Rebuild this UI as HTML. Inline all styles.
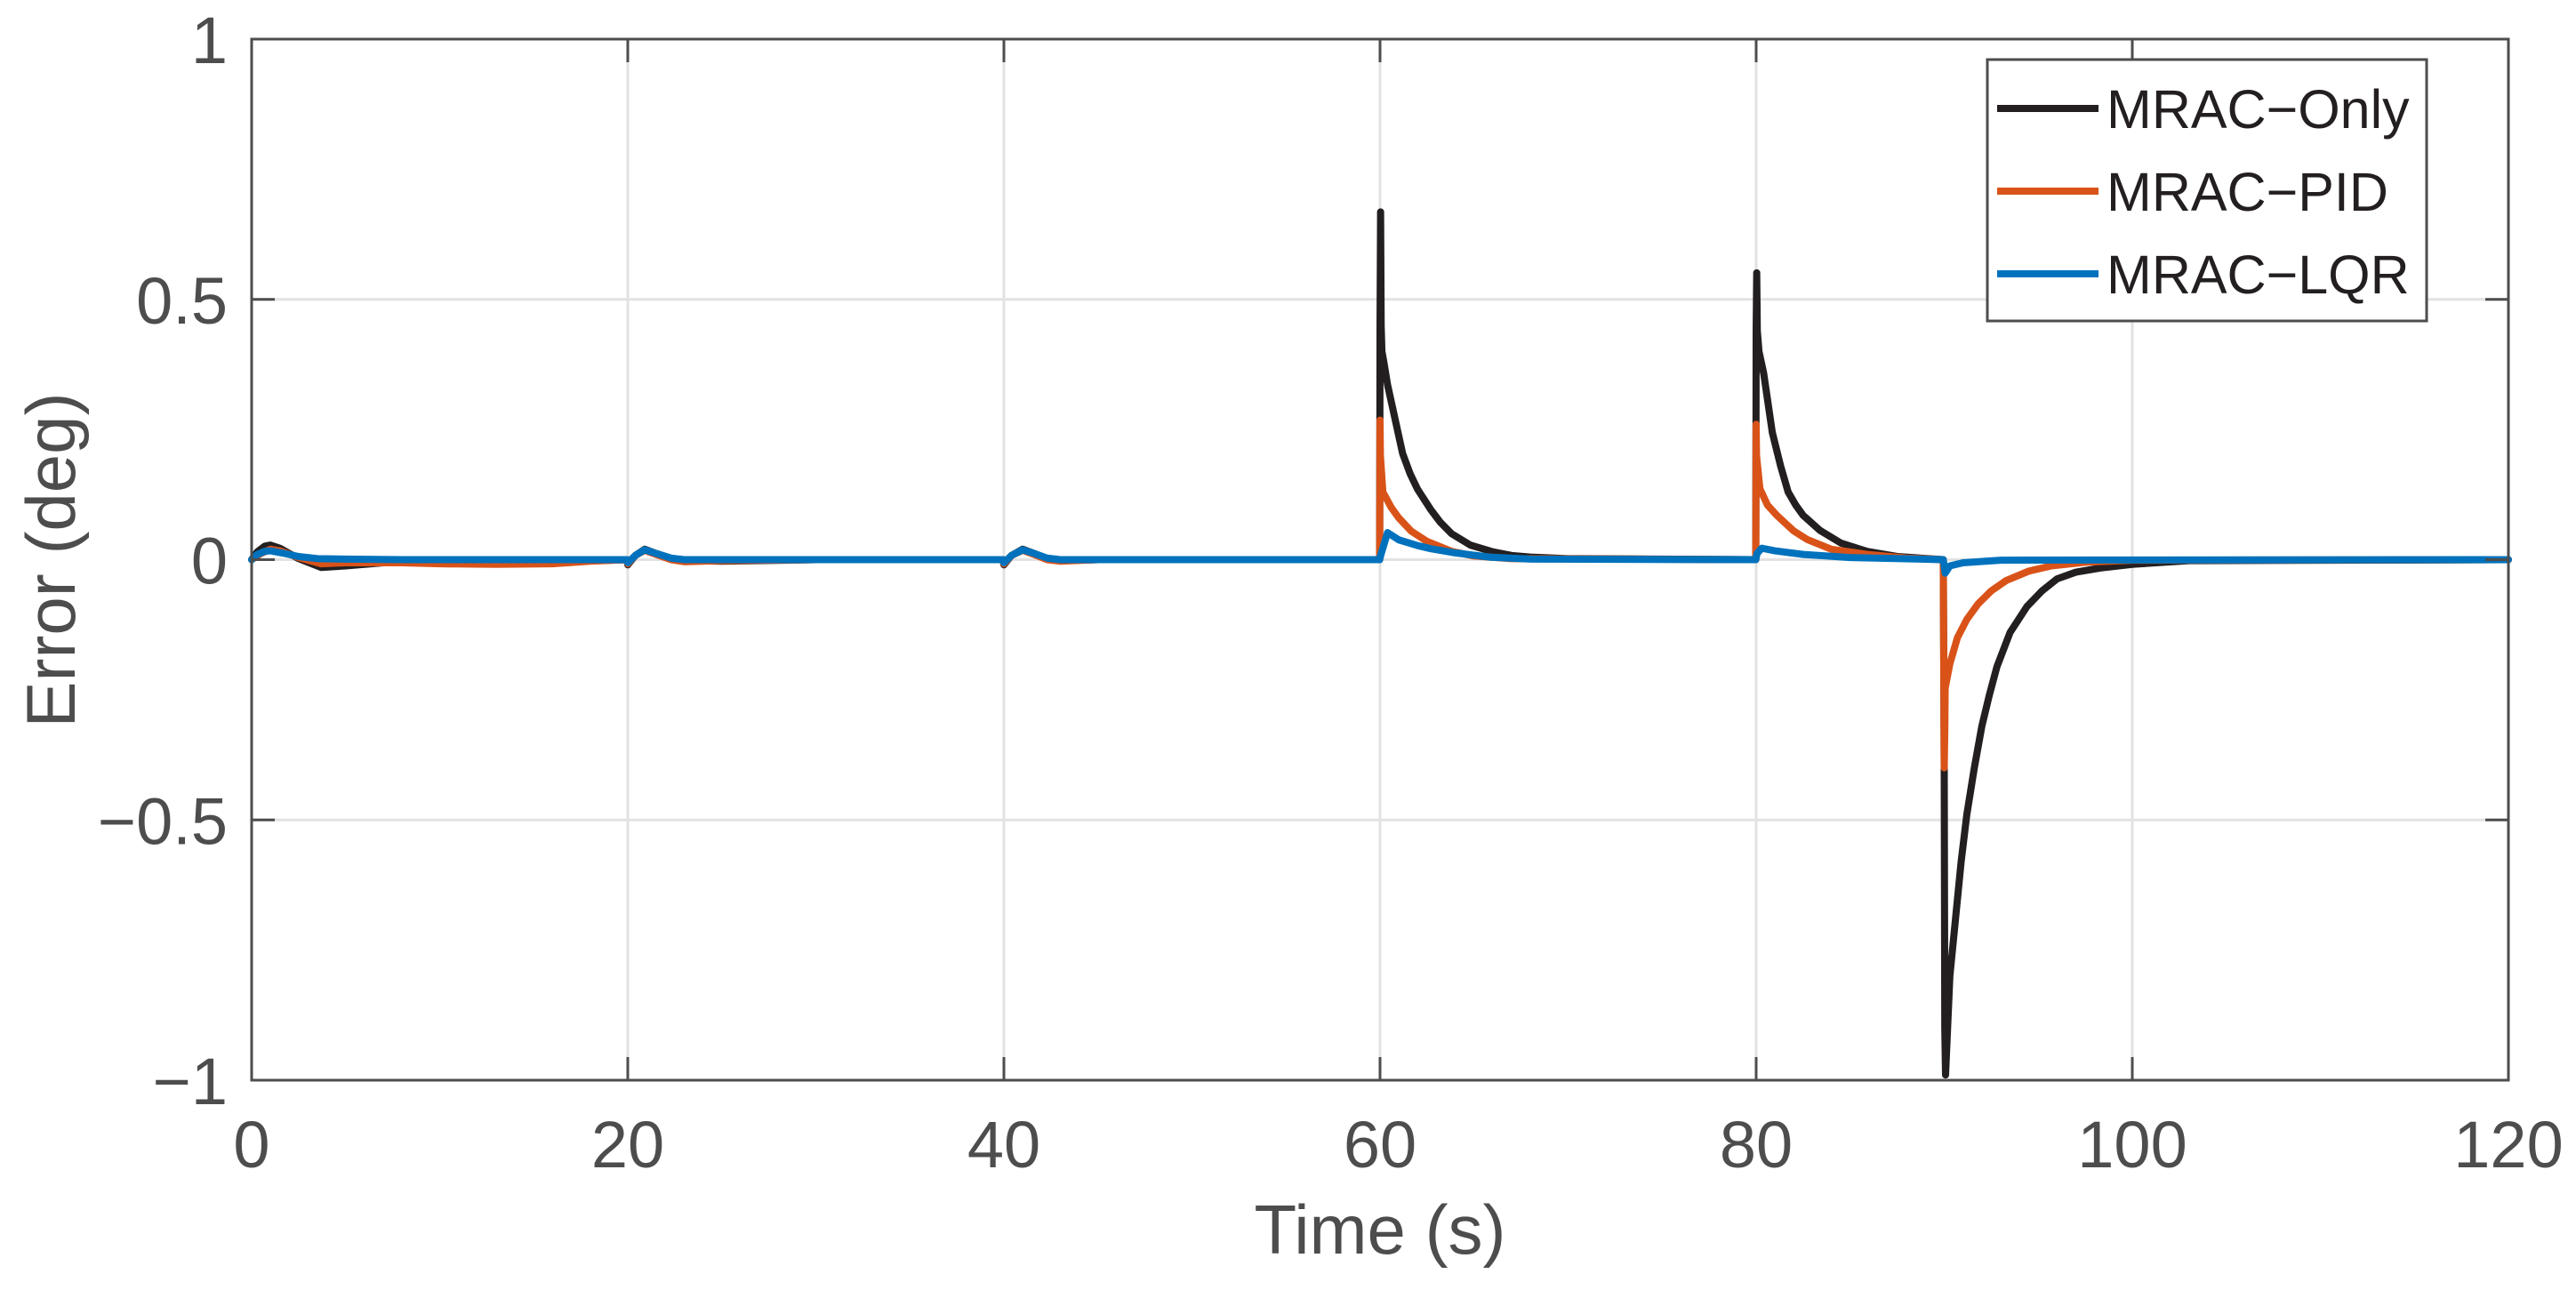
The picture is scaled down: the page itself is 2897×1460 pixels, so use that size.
<!DOCTYPE html>
<html><head><meta charset="utf-8"><style>
html,body{margin:0;padding:0;background:#fff;}
svg{display:block;font-family:"Liberation Sans",Arial,sans-serif;}
</style></head><body>
<svg id="chart" width="2897" height="1460" viewBox="0 0 2897 1460" xmlns="http://www.w3.org/2000/svg">
<rect x="0" y="0" width="2897" height="1460" fill="#fff"/>
<g id="grid"></g>
<g id="series"></g>
<g id="axes"></g>
<text x="1552" y="1410" font-size="78" fill="#4d4d4d" text-anchor="middle">Time (s)</text>
<text x="0" y="0" font-size="78" fill="#4d4d4d" text-anchor="middle" transform="translate(84,630) rotate(-90)">Error (deg)</text>
<g id="legend"></g>
</svg>
<script>
const xTicks = [0, 20, 40, 60, 80, 100, 120];
const yTicks = [-1, -0.5, 0, 0.5, 1];
const yTickLabels = ["\u22121", "\u22120.5", "0", "0.5", "1"];
const seriesNames = ["MRAC\u2212Only", "MRAC\u2212PID", "MRAC\u2212LQR"];
const mracOnly = [[0,0],[0.3,0.015],[0.7,0.026],[1.0,0.028],[1.5,0.022],[2.5,0.002],[3.7,-0.015],[5,-0.012],[7,-0.006],[9,-0.006],[12,-0.006],[16,-0.005],[19.95,0],[20.0,-0.01],[20.4,0.008],[20.9,0.02],[21.5,0.012],[22.3,0.002],[23,-0.002],[25,-0.003],[30,0],[39.95,0],[40.0,-0.01],[40.4,0.008],[41.0,0.02],[41.6,0.012],[42.3,0.002],[43,-0.002],[45,0],[59.98,0],[60.0,0.45],[60.03,0.668],[60.06,0.45],[60.1,0.40],[60.2,0.38],[60.4,0.336],[60.8,0.27],[61.2,0.204],[61.6,0.165],[62,0.135],[62.7,0.096],[63.2,0.072],[63.8,0.05],[64.8,0.028],[66,0.015],[67,0.008],[68,0.005],[70,0.002],[79.98,0],[80.0,0.44],[80.03,0.551],[80.06,0.44],[80.15,0.40],[80.4,0.358],[80.86,0.244],[81.3,0.18],[81.7,0.13],[82.1,0.105],[82.5,0.085],[83.4,0.056],[84.5,0.032],[85.9,0.016],[87.5,0.006],[89.95,0],[90.0,-0.4],[90.03,-0.9],[90.07,-0.99],[90.3,-0.8],[90.6,-0.69],[90.9,-0.58],[91.2,-0.49],[91.6,-0.40],[92.0,-0.32],[92.4,-0.26],[92.8,-0.206],[93.5,-0.14],[94.4,-0.09],[95.2,-0.06],[96.0,-0.037],[97,-0.024],[98.3,-0.016],[100,-0.009],[103,-0.002],[120,0]];
const mracPid = [[0,0],[0.5,0.012],[1.0,0.02],[1.5,0.017],[2.5,0.004],[3.7,-0.008],[5,-0.006],[8,-0.006],[10,-0.008],[13,-0.009],[16,-0.008],[18,-0.003],[19.95,0],[20.0,-0.008],[20.4,0.008],[20.9,0.018],[21.5,0.01],[22.3,0],[23,-0.004],[25,-0.002],[30,0],[39.95,0],[40.0,-0.008],[40.4,0.008],[41.0,0.018],[41.6,0.01],[42.3,0],[43,-0.003],[45,0],[59.98,0],[60.0,0.268],[60.02,0.2],[60.15,0.13],[60.6,0.10],[61.0,0.08],[61.65,0.055],[62.5,0.035],[63.8,0.016],[65,0.007],[67,0.002],[79.98,0],[80.0,0.26],[80.02,0.2],[80.2,0.136],[80.6,0.105],[81.1,0.085],[82.0,0.055],[82.7,0.039],[84,0.02],[85.9,0.01],[88,0.003],[89.95,0],[90.0,-0.40],[90.03,-0.33],[90.05,-0.247],[90.3,-0.2],[90.7,-0.15],[91.2,-0.115],[91.8,-0.085],[92.5,-0.06],[93.3,-0.04],[94.5,-0.022],[95.7,-0.012],[97.5,-0.005],[100,-0.001],[120,0]];
const mracLqr = [[0,0],[0.3,0.01],[0.7,0.016],[1.0,0.017],[1.6,0.013],[2.5,0.006],[3.5,0.002],[5,0.001],[8,0],[19.95,0],[20.0,-0.006],[20.4,0.008],[20.9,0.019],[21.5,0.012],[22.3,0.003],[23,0],[24,0],[39.95,0],[40.0,-0.006],[40.4,0.008],[41.0,0.019],[41.6,0.012],[42.3,0.003],[43,0],[45,0],[59.98,0],[60.05,0.01],[60.4,0.052],[61,0.038],[62,0.027],[62.7,0.021],[64,0.013],[65.8,0.005],[68,0.001],[79.98,0],[80.05,0.012],[80.3,0.022],[81,0.017],[82.5,0.01],[85,0.004],[89.95,0],[90.05,-0.026],[90.3,-0.012],[91,-0.006],[93,-0.001],[120,0]];
const seriesColors = ["#231f20", "#d95319", "#0072bd"];

const NS = "http://www.w3.org/2000/svg";
const L = 283, R = 2821, T = 44, B = 1215;
const xMin = 0, xMax = 120, yMin = -1, yMax = 1;
function xs(t){ return L + (t - xMin) / (xMax - xMin) * (R - L); }
function ys(v){ return B - (v - yMin) / (yMax - yMin) * (B - T); }
function mk(tag, attrs, parent){ const e = document.createElementNS(NS, tag); for (const k in attrs) e.setAttribute(k, attrs[k]); parent.appendChild(e); return e; }

const grid = document.getElementById('grid');
const axes = document.getElementById('axes');
xTicks.forEach((t) => {
  const x = xs(t);
  if (t !== xMin && t !== xMax) {
    const g = mk('line', {x1:x, y1:T, x2:x, y2:B, stroke:'#e2e2e2', 'stroke-width':3}, grid);
    
    
  }
  const tk = mk('path', {d:`M${x},${B}V${B-26}M${x},${T}V${T+26}`, stroke:'#4d4d4d', 'stroke-width':3}, axes);
  
  
  const lb = mk('text', {x:x, y:1313, 'font-size':74, fill:'#4d4d4d', 'text-anchor':'middle'}, axes);
  lb.textContent = String(t);
  
  
});
yTicks.forEach((v, i) => {
  const y = ys(v);
  if (v !== yMin && v !== yMax) {
    const g = mk('line', {x1:L, y1:y, x2:R, y2:y, stroke:'#e2e2e2', 'stroke-width':3}, grid);
    
    
  }
  const tk = mk('path', {d:`M${L},${y}H${L+26}M${R},${y}H${R-26}`, stroke:'#4d4d4d', 'stroke-width':3}, axes);
  
  
  const lb = mk('text', {x:256, y:y+27, 'font-size':74, fill:'#4d4d4d', 'text-anchor':'end'}, axes);
  lb.textContent = yTickLabels[i];
  
  
});
const box = mk('rect', {x:L, y:T, width:R-L, height:B-T, fill:'none', stroke:'#4d4d4d', 'stroke-width':3}, axes);



const seriesG = document.getElementById('series');
const allSeries = [mracOnly, mracPid, mracLqr];
const seriesKeys = ['mrac-only-line', 'mrac-pid-line', 'mrac-lqr-line'];
allSeries.forEach((data, i) => {
  const pts = data.map(p => xs(p[0]).toFixed(2) + ',' + ys(p[1]).toFixed(2)).join(' ');
  const pl = mk('polyline', {points:pts, fill:'none', stroke:seriesColors[i], 'stroke-width':8, 'stroke-linejoin':'round', 'stroke-linecap':'round'}, seriesG);
  
  
});

const leg = document.getElementById('legend');
const lb = mk('rect', {x:2235, y:67, width:494, height:294, fill:'#fff', stroke:'#4d4d4d', 'stroke-width':3}, leg);


const rowsY = [122, 215, 308];
seriesNames.forEach((n, i) => {
  const ln = mk('line', {x1:2246, y1:rowsY[i], x2:2360, y2:rowsY[i], stroke:seriesColors[i], 'stroke-width':8}, leg);
  
  
  const tx = mk('text', {x:2369, y:rowsY[i]+22, 'font-size':61, fill:'#231f20'}, leg);
  tx.textContent = n;
  
  
});
</script>
</body></html>
